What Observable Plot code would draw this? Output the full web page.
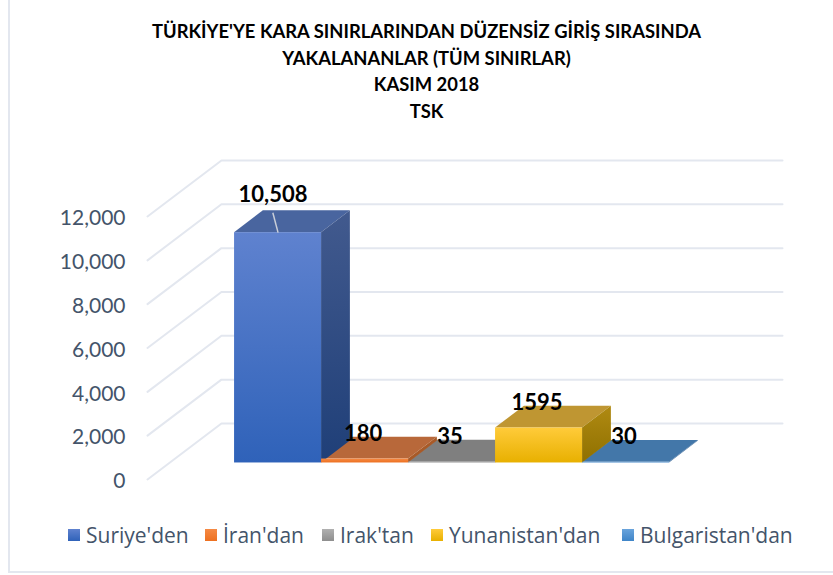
<!DOCTYPE html>
<html lang="tr">
<head>
<meta charset="utf-8">
<script src="https://cdn.jsdelivr.net/npm/d3@7"></script>
<script src="https://cdn.jsdelivr.net/npm/@observablehq/plot@0.6"></script>
<style>
  html, body { margin: 0; padding: 0; background: #fff; }
  #card { position: relative; width: 833px; height: 575px; overflow: hidden; }
  #frame { position: absolute; left: 8px; top: -4px; right: -4px; bottom: 2px; border-left: 2px solid #e3e7ef; border-bottom: 2px solid #e3e7ef; }
  #title { position: relative; height: 107px; padding-top: 18px; padding-left: 20px; text-align: center; font: 700 18.4px/26.6px Lato, sans-serif; color: #000; }
  #chart { position: relative; height: 380px; }
  #chart svg { display: block; overflow: visible; }
  #legend { position: relative; display: flex; padding-left: 68px; margin-top: 17px; font: 21px/26px "Open Sans", sans-serif; color: #44546a; white-space: nowrap; }
  #legend .item { display: flex; align-items: center; }
  #legend .sw { width: 12px; height: 12px; margin-right: 6px; flex: none; }
</style>
</head>
<body>
<div id="card">
  <div id="frame"></div>
  <div id="title"></div>
  <div id="chart"></div>
  <div id="legend"></div>
</div>
<script>
const titleLines = ["TÜRKİYE'YE KARA SINIRLARINDAN DÜZENSİZ GİRİŞ SIRASINDA", "YAKALANANLAR (TÜM SINIRLAR)", "KASIM 2018", "TSK"];
const names = ["Suriye'den", "İran'dan", "Irak'tan", "Yunanistan'dan", "Bulgaristan'dan"];
const values = [10508, 180, 35, 1595, 30];
const valueLabels = ["10,508", "180", "35", "1595", "30"];
const yTicks = [0, 2000, 4000, 6000, 8000, 10000, 12000];
const frontTop = ["#5f82cf", "#f58a45", "#b0b0b0", "#ffcb3a", "#6aa4dc"];
const frontBottom = ["#2f62b9", "#ed7020", "#8e8e8e", "#e8b000", "#3f85c8"];
const topColors = ["#49659f", "#b8683a", "#7f7f7f", "#bf9632", "#4377a9"];
const sideTop = ["#425a8e", "#a85a28", "#6f6f6f", "#b08a12", "#39689a"];
const sideBottom = ["#1f3f78", "#a85a28", "#6f6f6f", "#8f7000", "#39689a"];
const legendWidths = [137, 117, 109, 191, 180];

// Oblique-projection constants, in data units.
const firstBar = 0.75, wallX = 0.85, wallY = 2557, barFloor = 0.295, barDepth = 0.39, xMax = 7.299;

document.getElementById("title").innerHTML = titleLines.map(t => `<div>${t}</div>`).join("");

const defs = () => {
  const svgNS = "http://www.w3.org/2000/svg";
  const d = document.createElementNS(svgNS, "defs");
  const grad = (id, a, b) => {
    const g = document.createElementNS(svgNS, "linearGradient");
    g.setAttribute("id", id); g.setAttribute("x1", 0); g.setAttribute("y1", 0); g.setAttribute("x2", 0); g.setAttribute("y2", 1);
    [[0, a], [1, b]].forEach(([o, c]) => {
      const s = document.createElementNS(svgNS, "stop");
      s.setAttribute("offset", o); s.setAttribute("stop-color", c); g.appendChild(s);
    });
    d.appendChild(g);
  };
  names.forEach((_, i) => { grad(`front${i}`, frontTop[i], frontBottom[i]); grad(`side${i}`, sideTop[i], sideBottom[i]); });
  return d;
};

const grid = yTicks.map(v => Plot.line(
  [{x: 0, y: v}, {x: wallX, y: v + wallY}, {x: xMax, y: v + wallY}],
  {x: "x", y: "y", stroke: "#e3e7ef", strokeWidth: 2}
));

const x0 = i => firstBar + i + barFloor * wallX;
const dxBar = barDepth * wallX, yFloor = barFloor * wallY, dyBar = barDepth * wallY;

const tops = names.map((_, i) => Plot.areaX(
  [{y: yFloor + values[i], x1: x0(i), x2: x0(i) + 1}, {y: yFloor + values[i] + dyBar, x1: x0(i) + dxBar, x2: x0(i) + 1 + dxBar}],
  {y: "y", x1: "x1", x2: "x2", fill: topColors[i]}
));
const sides = names.map((_, i) => Plot.areaY(
  [{x: x0(i) + 1, y1: yFloor, y2: yFloor + values[i]}, {x: x0(i) + 1 + dxBar, y1: yFloor + dyBar, y2: yFloor + dyBar + values[i]}],
  {x: "x", y1: "y1", y2: "y2", fill: `url(#side${i})`}
));
const fronts = names.map((_, i) => Plot.rect(
  [{x1: x0(i), x2: x0(i) + 1, y1: yFloor, y2: yFloor + values[i]}],
  {x1: "x1", x2: "x2", y1: "y1", y2: "y2", fill: `url(#front${i})`, inset: 0}
));

const labelRows = names.map((_, i) => ({x: x0(i) + 0.5, y: yFloor + values[i], t: valueLabels[i]}));
const labelFont = {fontFamily: "Lato, sans-serif", fontWeight: 700, fontSize: 22, fill: "#000"};

const chart = Plot.plot({
  width: 833, height: 380,
  marginLeft: 147, marginRight: 51, marginTop: 91, marginBottom: 26,
  style: {background: "transparent", overflow: "visible"},
  x: {type: "linear", domain: [0, xMax], axis: null},
  y: {type: "linear", domain: [0, 12000], axis: null},
  marks: [
    defs,
    ...grid,
    Plot.axisY({ticks: yTicks, tickFormat: d3.format(","), anchor: "left", tickSize: 0, tickPadding: 22, label: null, color: "#44546a", fontSize: 21, fontFamily: "Lato, sans-serif", dy: 2}),
    ...tops, ...sides, ...fronts,
    Plot.link([{x1: x0(0) + 0.5, y1: yFloor + values[0], x2: x0(0) + 0.44, y2: yFloor + values[0] + 0.91 * dyBar}],
      {x1: "x1", y1: "y1", x2: "x2", y2: "y2", stroke: "#c9ced8", strokeWidth: 1.5}),
    Plot.text(labelRows.slice(0, 1), {x: "x", y: "y", text: "t", dx: -5, dy: -38, ...labelFont}),
    Plot.text(labelRows.slice(1), {x: "x", y: "y", text: "t", dx: -2, dy: -25, ...labelFont})
  ]
});
document.getElementById("chart").appendChild(chart);

document.getElementById("legend").innerHTML = names.map((n, i) =>
  `<div class="item" style="width:${legendWidths[i]}px"><span class="sw" style="background:linear-gradient(${frontTop[i]},${frontBottom[i]})"></span>${n}</div>`
).join("");
</script>
</body>
</html>
